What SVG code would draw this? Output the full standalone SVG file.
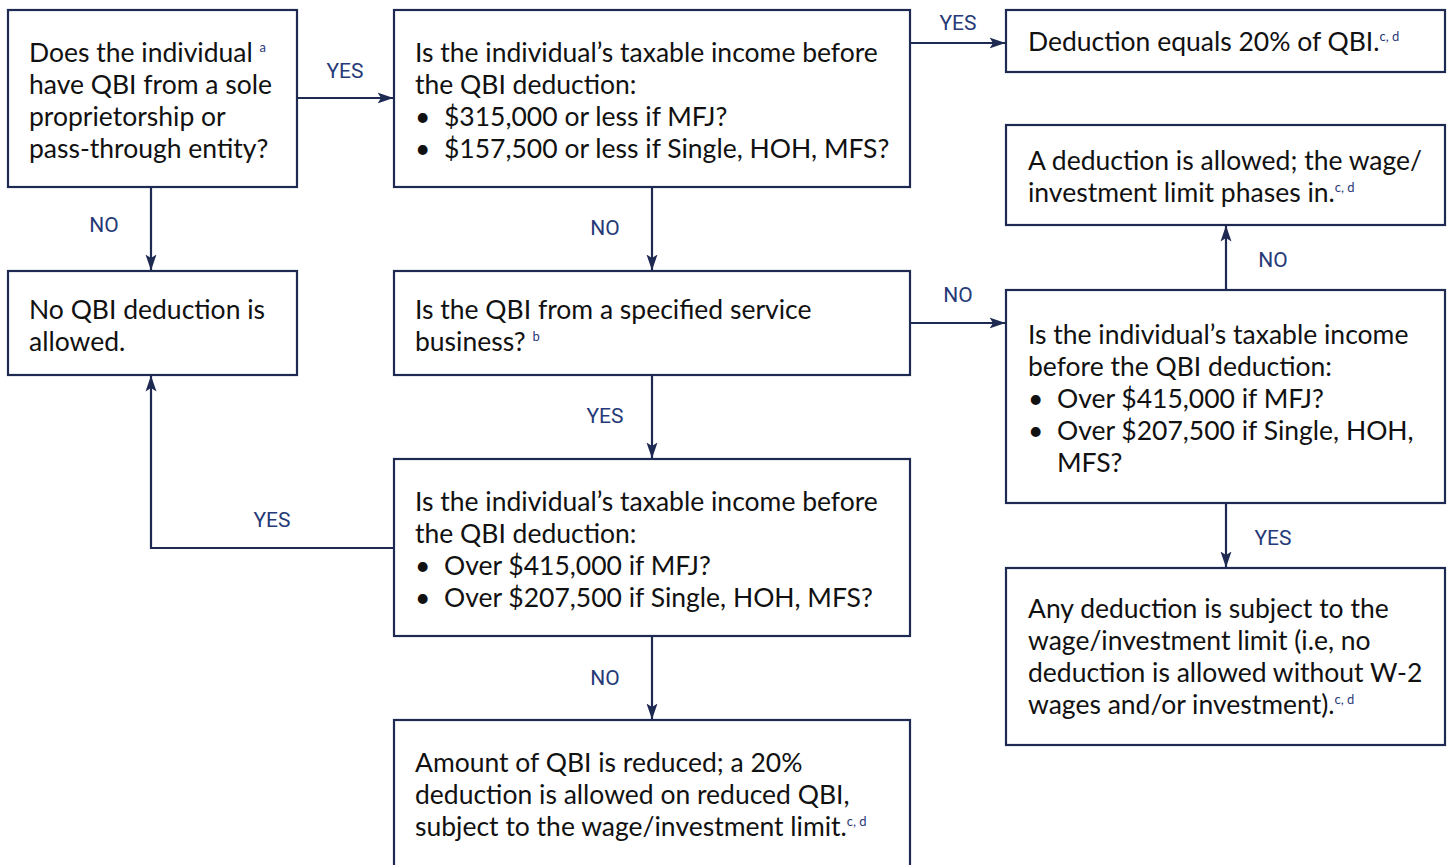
<svg xmlns="http://www.w3.org/2000/svg" width="1448" height="865" viewBox="0 0 1448 865">
<defs>
<style>
.box{fill:#fff;stroke:#1e2a52;stroke-width:2.2}
.t{font-family:Lato,"Noto Sans",sans-serif;font-size:26.5px;fill:#111}
.sup{font-family:Lato,"Noto Sans",sans-serif;font-size:13px;fill:#2a3a78}
.lbl{font-family:Roboto,"Liberation Sans",sans-serif;font-size:21px;fill:#263a78;text-anchor:middle}
.c{fill:none;stroke:#1e2a52;stroke-width:2.2}
</style>
<marker id="ah" markerWidth="16" markerHeight="12" refX="15.5" refY="6" orient="auto" markerUnits="userSpaceOnUse">
<path d="M0,0.5 L16,6 L0,11.5 L3.5,6 Z" fill="#1e2a52"/>
</marker>
</defs>
<rect width="1448" height="865" fill="#fff"/>
<g id="connectors">
<line class="c" x1="297" y1="98" x2="393" y2="98" marker-end="url(#ah)"/>
<line class="c" x1="151" y1="187" x2="151" y2="270" marker-end="url(#ah)"/>
<line class="c" x1="910" y1="43" x2="1005" y2="43" marker-end="url(#ah)"/>
<line class="c" x1="652" y1="187" x2="652" y2="270" marker-end="url(#ah)"/>
<line class="c" x1="910" y1="323" x2="1005" y2="323" marker-end="url(#ah)"/>
<line class="c" x1="1226" y1="290" x2="1226" y2="226" marker-end="url(#ah)"/>
<line class="c" x1="1226" y1="503" x2="1226" y2="567" marker-end="url(#ah)"/>
<line class="c" x1="652" y1="375" x2="652" y2="458" marker-end="url(#ah)"/>
<polyline class="c" points="394,548 151,548 151,376" marker-end="url(#ah)"/>
<line class="c" x1="652" y1="636" x2="652" y2="719" marker-end="url(#ah)"/>
<text class="lbl" x="345" y="78">YES</text>
<text class="lbl" x="104" y="232">NO</text>
<text class="lbl" x="958" y="30">YES</text>
<text class="lbl" x="605" y="235">NO</text>
<text class="lbl" x="958" y="302">NO</text>
<text class="lbl" x="1273" y="267">NO</text>
<text class="lbl" x="1273" y="545">YES</text>
<text class="lbl" x="605" y="423">YES</text>
<text class="lbl" x="272" y="527">YES</text>
<text class="lbl" x="605" y="685">NO</text>
</g>
<g id="nodeA">
<rect class="box" x="8" y="10" width="289" height="177"/>
<text class="t" x="29" y="62">Does the individual <tspan class="sup" dy="-10">a</tspan></text>
<text class="t" x="29" y="94">have QBI from a sole</text>
<text class="t" x="29" y="126">proprietorship or</text>
<text class="t" x="29" y="158">pass-through entity?</text>
</g>
<g id="nodeB">
<rect class="box" x="394" y="10" width="516" height="177"/>
<text class="t" x="415" y="62">Is the individual’s taxable income before</text>
<text class="t" x="415" y="94">the QBI deduction:</text>
<text class="t" x="415" y="126">•</text><text class="t" x="444" y="126">$315,000 or less if MFJ?</text>
<text class="t" x="415" y="158">•</text><text class="t" x="444" y="158">$157,500 or less if Single, HOH, MFS?</text>
</g>
<g id="nodeC">
<rect class="box" x="1006" y="10" width="439" height="62"/>
<text class="t" x="1028" y="51">Deduction equals 20% of QBI.<tspan class="sup" dy="-10">c, d</tspan></text>
</g>
<g id="nodeD">
<rect class="box" x="1006" y="125" width="439" height="100"/>
<text class="t" x="1028" y="170">A deduction is allowed; the wage/</text>
<text class="t" x="1028" y="202">investment limit phases in.<tspan class="sup" dy="-10">c, d</tspan></text>
</g>
<g id="nodeE">
<rect class="box" x="8" y="271" width="289" height="104"/>
<text class="t" x="29" y="319">No QBI deduction is</text>
<text class="t" x="29" y="351">allowed.</text>
</g>
<g id="nodeF">
<rect class="box" x="394" y="271" width="516" height="104"/>
<text class="t" x="415" y="319">Is the QBI from a specified service</text>
<text class="t" x="415" y="351">business? <tspan class="sup" dy="-10">b</tspan></text>
</g>
<g id="nodeG">
<rect class="box" x="1006" y="290" width="439" height="213"/>
<text class="t" x="1028" y="344">Is the individual’s taxable income</text>
<text class="t" x="1028" y="376">before the QBI deduction:</text>
<text class="t" x="1028" y="408">•</text><text class="t" x="1057" y="408">Over $415,000 if MFJ?</text>
<text class="t" x="1028" y="440">•</text><text class="t" x="1057" y="440">Over $207,500 if Single, HOH,</text>
<text class="t" x="1057" y="472">MFS?</text>
</g>
<g id="nodeH">
<rect class="box" x="1006" y="568" width="439" height="177"/>
<text class="t" x="1028" y="618">Any deduction is subject to the</text>
<text class="t" x="1028" y="650">wage/investment limit (i.e, no</text>
<text class="t" x="1028" y="682">deduction is allowed without W-2</text>
<text class="t" x="1028" y="714">wages and/or investment).<tspan class="sup" dy="-10">c, d</tspan></text>
</g>
<g id="nodeI">
<rect class="box" x="394" y="459" width="516" height="177"/>
<text class="t" x="415" y="511">Is the individual’s taxable income before</text>
<text class="t" x="415" y="543">the QBI deduction:</text>
<text class="t" x="415" y="575">•</text><text class="t" x="444" y="575">Over $415,000 if MFJ?</text>
<text class="t" x="415" y="607">•</text><text class="t" x="444" y="607">Over $207,500 if Single, HOH, MFS?</text>
</g>
<g id="nodeJ">
<rect class="box" x="394" y="720" width="516" height="160"/>
<text class="t" x="415" y="772">Amount of QBI is reduced; a 20%</text>
<text class="t" x="415" y="804">deduction is allowed on reduced QBI,</text>
<text class="t" x="415" y="836">subject to the wage/investment limit.<tspan class="sup" dy="-10">c, d</tspan></text>
</g>
</svg>
